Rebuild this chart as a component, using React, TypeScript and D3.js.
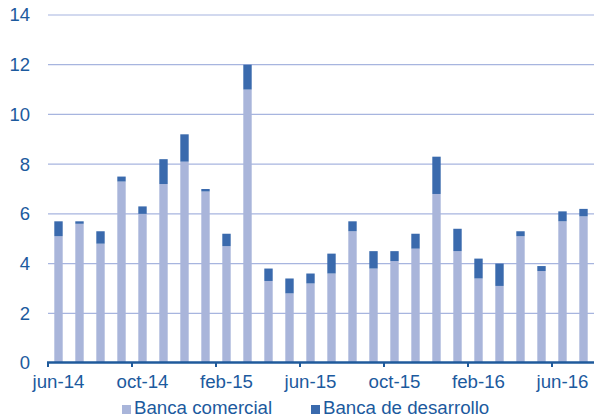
import React from "react";
import * as d3 from "d3";

const months = [
  "jun-14", "jul-14", "ago-14", "sep-14", "oct-14", "nov-14", "dic-14",
  "ene-15", "feb-15", "mar-15", "abr-15", "may-15", "jun-15", "jul-15",
  "ago-15", "sep-15", "oct-15", "nov-15", "dic-15", "ene-16", "feb-16",
  "mar-16", "abr-16", "may-16", "jun-16", "jul-16",
];

const comercial = [
  5.1, 5.6, 4.8, 7.3, 6.0, 7.2, 8.1, 6.9, 4.7, 11.0, 3.3, 2.8, 3.2,
  3.6, 5.3, 3.8, 4.1, 4.6, 6.8, 4.5, 3.4, 3.1, 5.1, 3.7, 5.7, 5.9,
];

const desarrollo = [
  0.6, 0.1, 0.5, 0.2, 0.3, 1.0, 1.1, 0.1, 0.5, 1.0, 0.5, 0.6, 0.4,
  0.8, 0.4, 0.7, 0.4, 0.6, 1.5, 0.9, 0.8, 0.9, 0.2, 0.2, 0.4, 0.3,
];

const yTicks = [0, 2, 4, 6, 8, 10, 12, 14];
const xLabels = ["jun-14", "oct-14", "feb-15", "jun-15", "oct-15", "feb-16", "jun-16"];

const seriesNames = ["Banca comercial", "Banca de desarrollo"];
const colors = ["#a9b5da", "#3a6aad"];

const width = 594;
const height = 420;
const textColor = "#1c5a9e";
const font = "'Liberation Sans', Arial, sans-serif";

export default function App() {
  const x = d3
    .scaleBand()
    .domain(months)
    .range([48, 594])
    .paddingInner(0.6)
    .paddingOuter(0.3);

  const y = d3.scaleLinear().domain([0, 14]).range([363, 15]);

  const data = months.map((m, i) => ({ month: m, c: comercial[i], d: desarrollo[i] }));
  const stack = d3.stack().keys(["c", "d"]);
  const layers = stack(data as any);

  const step = x.step();
  const gap = (step - x.bandwidth()) / 2;

  return (
    <svg
      width={width}
      height={height}
      style={{ position: "absolute", left: 0, top: 0, background: "#fff" }}
      fontFamily={font}
    >
      {/* gridlines */}
      {yTicks.slice(1).map((t) => (
        <line
          key={t}
          x1={48}
          x2={594}
          y1={y(t)}
          y2={y(t)}
          stroke={t === 14 ? "#c3cdea" : "#a7b5df"}
          strokeWidth={t === 14 ? 1.5 : 1.2}
        />
      ))}

      {/* bars */}
      {layers.map((layer, li) => (
        <g key={layer.key} fill={colors[li]}>
          {layer.map((d, i) => (
            <rect
              key={i}
              x={x(months[i])}
              y={y(d[1])}
              width={x.bandwidth()}
              height={y(d[0]) - y(d[1])}
            />
          ))}
        </g>
      ))}

      {/* y labels */}
      {yTicks.map((t) => (
        <text
          key={t}
          x={30}
          y={y(t)}
          dy="0.35em"
          textAnchor="end"
          fontSize={18.5}
          fill={textColor}
        >
          {t}
        </text>
      ))}

      {/* x axis */}
      <line x1={47} x2={594} y1={362.5} y2={362.5} stroke="#1f5a9b" strokeWidth={2.5} />
      {xLabels.map((m) => {
        const bx = (x(m) as number) - gap;
        return (
          <g key={m}>
            <line x1={bx} x2={bx} y1={362} y2={367} stroke="#1f5a9b" strokeWidth={2} />
            <text
              x={(x(m) as number) + x.bandwidth() / 2}
              y={388}
              textAnchor="middle"
              fontSize={18.7}
              fill={textColor}
            >
              {m}
            </text>
          </g>
        );
      })}

      {/* legend */}
      {seriesNames.map((name, i) => {
        const lx = i === 0 ? 122 : 311;
        return (
          <g key={name}>
            <rect x={lx} y={405} width={9} height={9} fill={colors[i]} />
            <text x={lx + 12} y={413.5} fontSize={18.7} fill={textColor}>
              {name}
            </text>
          </g>
        );
      })}
    </svg>
  );
}
